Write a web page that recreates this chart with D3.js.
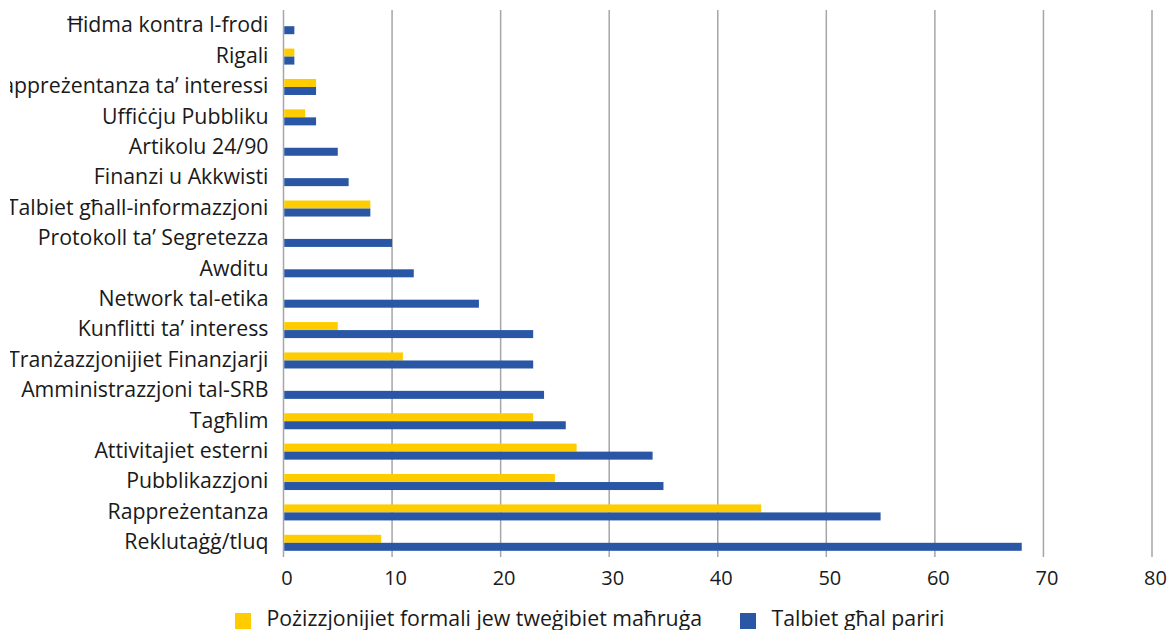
<!DOCTYPE html>
<html><head><meta charset="utf-8">
<script src="https://cdn.jsdelivr.net/npm/d3@7"></script>
<style>
html,body{margin:0;padding:0;background:#fff;}
svg{display:block;font-family:"Open Sans",sans-serif;}
</style></head>
<body>
<svg id="chart" width="1170" height="630"></svg>
<script>
const categories = ["Ħidma kontra l-frodi","Rigali","Rappreżentanza ta’ interessi","Uffiċċju Pubbliku","Artikolu 24/90","Finanzi u Akkwisti","Talbiet għall-informazzjoni","Protokoll ta’ Segretezza","Awditu","Network tal-etika","Kunflitti ta’ interess","Tranżazzjonijiet Finanzjarji","Amministrazzjoni tal-SRB","Tagħlim","Attivitajiet esterni","Pubblikazzjoni","Rappreżentanza","Reklutaġġ/tluq"];
const formalPositions = [0,1,3,2,0,0,8,0,0,0,5,11,0,23,27,25,44,9];
const adviceRequests  = [1,1,3,3,5,6,8,10,12,18,23,23,24,26,34,35,55,68];
const seriesNames = ["Pożizzjonijiet formali jew tweġibiet maħruġa","Talbiet għal pariri"];
const xTicks = [0,10,20,30,40,50,60,70,80];
const colors = ["#FFCC00","#2A57A5"];

const svg = d3.select("#chart");
const pLeft = 283.5, pRight = 1152, pTop = 10, pBottom = 557;

const x = d3.scaleLinear().domain([0,80]).range([pLeft,pRight]);
const y = d3.scaleBand().domain(categories).range([pTop,pBottom]).paddingInner(0.473).paddingOuter(0.2365);
const ySub = d3.scaleBand().domain([0,1]).range([0,y.bandwidth()]);

// gridlines
svg.append("g").selectAll("line").data(xTicks).join("line")
  .attr("x1",d=>x(d)).attr("x2",d=>x(d)).attr("y1",pTop).attr("y2",pBottom)
  .attr("stroke","#A6A6A6").attr("stroke-width",1.5);

// bars
const rows = categories.map((c,i)=>({c, vals:[formalPositions[i],adviceRequests[i]]}));
const g = svg.append("g").attr("transform","translate(0,1)");
g.selectAll("g.row").data(rows).join("g").attr("class","row")
  .attr("transform",d=>`translate(0,${y(d.c)})`)
  .selectAll("rect").data(d=>d.vals.map((v,k)=>({v,k}))).join("rect")
  .attr("x",x(0)+0.75).attr("y",d=>ySub(d.k))
  .attr("width",d=>Math.max(0,x(d.v)-x(0)-0.75)).attr("height",ySub.bandwidth())
  .attr("fill",d=>colors[d.k]);

// category labels
svg.append("clipPath").attr("id","lc").append("rect").attr("x",10).attr("y",0).attr("width",270).attr("height",600);
svg.append("g").attr("clip-path","url(#lc)").selectAll("text").data(categories).join("text")
  .attr("x",268.5).attr("y",d=>y(d)+y.bandwidth()/2+7.3)
  .attr("text-anchor","end").attr("font-size",21.3).attr("fill","#1a1a1a").text(d=>d);

// x axis tick labels
const xAxis = d3.axisBottom(x).tickValues(xTicks).tickSize(0).tickPadding(0);
const ax = svg.append("g").attr("transform",`translate(3,${pBottom})`).call(xAxis);
ax.select(".domain").remove();
ax.selectAll("text").attr("dy",null).attr("y",27.5).attr("font-size",20).attr("font-family","Open Sans").attr("fill","#1a1a1a");

// legend
const leg = svg.append("g");
const legX = [235,740];
seriesNames.forEach((n,i)=>{
  leg.append("rect").attr("x",legX[i]).attr("y",613).attr("width",16).attr("height",16).attr("fill",colors[i]);
  leg.append("text").attr("x",legX[i]+31.5).attr("y",626).attr("font-size",21.3).attr("fill","#1a1a1a").text(n);
});
</script>
</body></html>
